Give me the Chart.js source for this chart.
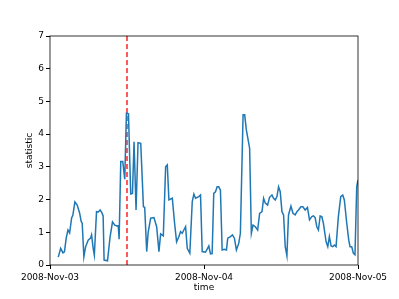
<!doctype html>
<html lang="en">
<head>
  <meta charset="utf-8">
  <title>statistic over time</title>
  <script src="https://cdn.jsdelivr.net/npm/chart.js@4.4.1/dist/chart.umd.min.js"></script>
  <style>
    body { margin: 0; background: #fff; }
  </style>
</head>
<body>
  <canvas id="myChart" width="399" height="299"></canvas>
  <script>
    // hours after 2008-Nov-03 00:00
    const hours = [1.29, 1.66, 2.02, 2.25, 2.53, 2.80, 3.06, 3.37, 3.57, 3.88, 4.24, 4.61, 4.86, 5.02, 5.28, 5.55, 5.95, 6.32, 6.48, 6.73,
      6.91, 7.25, 7.53, 7.81, 8.08, 8.28, 8.43, 8.96, 9.37, 9.74, 10.10, 10.52, 10.64, 10.77, 11.03, 11.34, 11.65, 11.91, 12.23, 12.58,
      12.85, 13.10, 13.41, 13.72, 14.14, 14.56, 14.76, 15.07, 15.30, 15.69, 16.20, 16.62, 16.98, 17.24, 17.66, 18.02, 18.28, 18.53, 19.06, 19.42,
      19.73, 20.09, 20.35, 20.61, 20.86, 21.13, 21.39, 21.79, 22.17, 22.42, 22.68, 23.19, 23.46, 23.72, 24.23, 24.75, 25.01, 25.27, 25.52, 25.79,
      26.05, 26.30, 26.56, 26.83, 27.18, 27.50, 27.70, 28.12, 28.43, 28.74, 29.05, 29.41, 29.67, 30.09, 30.34, 30.60, 31.11, 31.38, 31.64, 32.00,
      32.36, 32.67, 33.04, 33.29, 33.55, 33.91, 34.22, 34.59, 34.84, 35.11, 35.37, 35.62, 35.88, 36.15, 36.40, 36.66, 36.92, 37.17, 37.55, 37.86,
      38.21, 38.48, 38.73, 39.10, 39.41, 39.77, 40.12, 40.44, 40.81, 41.06, 41.32, 41.58, 41.83, 42.10, 42.36, 42.61, 43.03, 43.29, 43.54, 43.81,
      44.07, 44.32, 44.58, 44.94, 45.31, 45.62, 45.87, 46.25, 46.56, 46.76, 47.02, 47.27, 47.53, 47.80, 48.0];
    const statistic = [0.24, 0.51, 0.37, 0.40, 0.83, 1.07, 0.98, 1.44, 1.53, 1.93, 1.83, 1.59, 1.33, 1.28, 0.25, 0.56, 0.76, 0.82, 0.92, 0.51,
      0.30, 1.63, 1.62, 1.68, 1.60, 1.50, 0.15, 0.13, 0.87, 1.32, 1.22, 1.19, 1.20, 0.79, 3.16, 3.16, 2.62, 4.64, 4.62, 2.17,
      2.19, 3.77, 1.68, 3.74, 3.72, 1.78, 1.76, 0.41, 1.00, 1.43, 1.45, 1.17, 0.41, 0.95, 0.89, 3.00, 3.06, 1.99, 2.04, 1.27,
      0.71, 0.87, 1.02, 0.97, 1.07, 1.17, 0.51, 0.36, 1.94, 2.17, 2.04, 2.09, 2.14, 0.41, 0.39, 0.58, 0.34, 0.35, 2.19, 2.24,
      2.39, 2.39, 2.29, 0.46, 0.48, 0.46, 0.82, 0.87, 0.92, 0.82, 0.46, 0.66, 0.97, 4.59, 4.59, 4.13, 3.57, 0.97, 1.22, 1.17,
      1.07, 1.58, 1.63, 2.04, 1.89, 1.83, 2.07, 2.14, 2.04, 1.99, 2.09, 2.39, 2.24, 1.63, 1.53, 0.56, 0.28, 1.53, 1.80, 1.58,
      1.53, 1.63, 1.68, 1.78, 1.78, 1.68, 1.76, 1.38, 1.48, 1.50, 1.45, 1.17, 1.07, 1.50, 1.48, 1.27, 0.71, 0.56, 0.87, 0.58,
      0.56, 0.61, 0.56, 1.48, 2.09, 2.14, 1.99, 1.27, 0.76, 0.56, 0.56, 0.36, 0.31, 2.39, 2.60];
    const eventHour = 12;
    const dayTicks = [0, 24, 48];
    const dayLabels = ['2008-Nov-03', '2008-Nov-04', '2008-Nov-05'];
    const yMin = 0, yMax = 7;

    const series = hours.map((h, i) => ({ x: h, y: statistic[i] }));
    const eventLine = [{ x: eventHour, y: yMin }, { x: eventHour, y: yMax }];

    // matplotlib-like box around the plot area
    const boxPlugin = {
      id: 'box',
      afterDraw(chart) {
        const a = chart.chartArea, ctx = chart.ctx;
        ctx.save();
        ctx.strokeStyle = '#000';
        ctx.lineWidth = 0.8;
        ctx.strokeRect(a.left, a.top, a.right - a.left, a.bottom - a.top);
        ctx.restore();
      }
    };

    const font = { family: 'DejaVu Sans', size: 9 };

    new Chart(document.getElementById('myChart'), {
      type: 'scatter',
      data: {
        datasets: [{
          data: series,
          showLine: true,
          borderColor: '#1f77b4',
          borderWidth: 1.5,
          pointRadius: 0,
          tension: 0
        }, {
          data: eventLine,
          showLine: true,
          borderColor: '#ff0000',
          borderWidth: 1.3,
          borderDash: [5, 3],
          pointRadius: 0
        }]
      },
      options: {
        responsive: false,
        animation: false,
        layout: { padding: { top: 36, right: 41, left: 0, bottom: 0 } },
        plugins: { legend: { display: false }, tooltip: { enabled: false } },
        scales: {
          x: {
            type: 'linear',
            min: dayTicks[0],
            max: dayTicks[dayTicks.length - 1],
            afterBuildTicks: s => { s.ticks = dayTicks.map(v => ({ value: v })); },
            afterFit: s => { s.height = 34; },
            ticks: {
              color: '#000', font: font, padding: 3, maxRotation: 0,
              callback: v => dayLabels[dayTicks.indexOf(v)]
            },
            grid: { drawOnChartArea: false, color: '#000', tickLength: 4 },
            border: { display: false },
            title: { display: true, text: 'time', color: '#000', font: font, padding: { top: 0, bottom: 6 } }
          },
          y: {
            min: yMin,
            max: yMax,
            afterFit: s => { s.width = 50; },
            ticks: { stepSize: 1, color: '#000', font: font, padding: 2 },
            grid: { drawOnChartArea: false, color: '#000', tickLength: 4 },
            border: { display: false },
            title: { display: true, text: 'statistic', color: '#000', font: font, padding: { top: 24, bottom: 0 } }
          }
        }
      },
      plugins: [boxPlugin]
    });
  </script>
</body>
</html>
